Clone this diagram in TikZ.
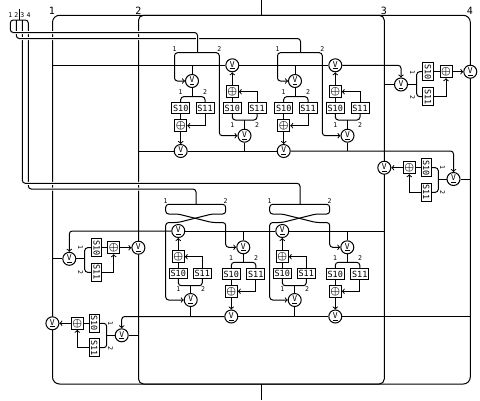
\documentclass[tikz,border=0pt]{standalone}
\usepackage{fontspec}
\setmainfont{DejaVu Sans Mono}
\tikzset{
  volt/.style={draw, circle, fill=white, minimum size=13pt, inner sep=0pt, font=\fontsize{8}{8}\selectfont},
  sumbox/.style={draw, fill=white, minimum size=12pt, inner sep=0pt, font=\fontsize{11}{11}\selectfont\boldmath},
  hbox/.style={draw, fill=white, minimum width=18pt, minimum height=10.5pt, inner sep=0pt, font=\fontsize{8.5}{8.5}\selectfont},
  vbox/.style={draw, fill=white, minimum width=10.5pt, minimum height=18pt, inner sep=0pt, font=\fontsize{8.5}{8.5}\selectfont},
  num/.style={inner sep=0pt, font=\fontsize{6.5}{6.5}\selectfont},
  bignum/.style={inner sep=0pt, font=\fontsize{10}{10}\selectfont},
  wire/.style={rounded corners=3pt},
  halo/.style={preaction={draw=white, line width=3pt}}
}
\begin{document}
\begin{tikzpicture}[x=1pt, y=-1pt, line width=1pt]
\useasboundingbox (0,0) rectangle (480,400);
\node[draw, rounded corners=7pt, minimum width=417.8pt, minimum height=368.7pt, inner sep=0pt, outer sep=0pt] (box1) at (261.4,199.65) {};
\node[draw, rounded corners=5pt, minimum width=245.8pt, minimum height=368.7pt, inner sep=0pt, outer sep=0pt] (box2) at (261.4,199.65) {};
\coordinate (in) at (261.4,0);
\coordinate (out) at (261.4,400);
\draw (in) -- (box1.north);
\draw (box1.south) -- (out);
\node[bignum] (big1) at (52,10.5) {1};
\node[bignum] (big2) at (138.5,10.5) {2};
\node[bignum] (big3) at (384,10.5) {3};
\node[bignum] (big4) at (470,10.5) {4};

\node[num] (top1) at (10.3,15.3) {1};
\node[num] (top2) at (16.3,15.3) {2};
\node[num] (top3) at (22.3,15.3) {3};
\node[num] (top4) at (28.5,15.3) {4};
\coordinate (stub) at (19.4,9);
\coordinate (bar) at (19.4,20);
\coordinate (e1) at (10.3,28);
\coordinate (e2) at (16.3,20);
\coordinate (e3) at (22.3,20);
\coordinate (e4) at (28.3,28);
\coordinate (ja) at (197.5,52.7);
\coordinate (jb) at (300.5,52.7);
\coordinate (jc) at (196,204.3);
\coordinate (jd) at (300,204.3);
\coordinate (k1) at (197.5,32.5);
\coordinate (k2) at (300.5,38.5);
\coordinate (k3) at (300,183.3);
\coordinate (k4) at (196,189);
\draw (stub) -- (bar);
\draw[wire, halo] (e4) |- (k4) -- (jc);
\draw[wire, halo] (e3) |- (k3) -- (jd);
\draw[wire, halo] (e2) |- (k2) -- (jb);
\draw[wire, halo] (e1) |- (k1) -- (ja);
\draw[wire] (e1) |- (bar) -| (e4);

\node[num] (n1a) at (174.5,49) {1};
\node[num] (n2a) at (219.3,49) {2};
\node[num] (n3a) at (180.5,92) {1};
\node[num] (n4a) at (205,92) {2};
\node[num] (n5a) at (232.3,125) {1};
\node[num] (n6a) at (257,125) {2};
\node[volt] (v1a) at (192,81) {\underline{V}};
\node[hbox] (s1a) at (180.7,108) {S10};
\node[hbox] (s2a) at (205,108) {S11};
\node[sumbox] (p1a) at (180.7,125.7) {$\oplus$};
\node[volt] (v2a) at (180.7,151) {\underline{V}};
\node[volt] (v3a) at (232.3,65.3) {\underline{V}};
\node[sumbox] (p2a) at (232.3,91.7) {$\oplus$};
\node[hbox] (s3a) at (232.3,108) {S10};
\node[hbox] (s4a) at (257,108) {S11};
\node[volt] (v4a) at (244.5,135.7) {\underline{V}};
\coordinate (la) at (174.5,81);
\coordinate (ra) at (219.3,135.7);
\coordinate (b1a) at (192,96.7);
\coordinate (b2a) at (244.5,120);
\draw[->, wire] (ja) -| (la) -- (v1a);
\draw[->, wire] (ja) -| (ra) -- (v4a);
\draw (v1a) -- (v1a |- v3a);
\draw (v1a) -- (b1a);
\draw[wire] (s1a) |- (b1a) -| (s2a);
\draw (s1a) -- (p1a);
\draw[->] (s2a) |- (p1a);
\draw[->] (p1a) -- (v2a);
\draw (v4a) -- (b2a);
\draw[wire] (s3a) |- (b2a) -| (s4a);
\draw (s3a) -- (p2a);
\draw[->] (s4a) |- (p2a);
\draw[->] (p2a) -- (v3a);
\draw (v4a) -- (v4a |- v2a);

\node[num] (n1b) at (277.5,49) {1};
\node[num] (n2b) at (322.3,49) {2};
\node[num] (n3b) at (283.5,92) {1};
\node[num] (n4b) at (308,92) {2};
\node[num] (n5b) at (335.3,125) {1};
\node[num] (n6b) at (360,125) {2};
\node[volt] (v1b) at (295,81) {\underline{V}};
\node[hbox] (s1b) at (283.7,108) {S10};
\node[hbox] (s2b) at (308,108) {S11};
\node[sumbox] (p1b) at (283.7,125.7) {$\oplus$};
\node[volt] (v2b) at (283.7,151) {\underline{V}};
\node[volt] (v3b) at (335.3,65.3) {\underline{V}};
\node[sumbox] (p2b) at (335.3,91.7) {$\oplus$};
\node[hbox] (s3b) at (335.3,108) {S10};
\node[hbox] (s4b) at (360,108) {S11};
\node[volt] (v4b) at (347.5,135.7) {\underline{V}};
\coordinate (lb) at (277.5,81);
\coordinate (rb) at (322.3,135.7);
\coordinate (b1b) at (295,96.7);
\coordinate (b2b) at (347.5,120);
\draw[->, wire] (jb) -| (lb) -- (v1b);
\draw[->, wire] (jb) -| (rb) -- (v4b);
\draw (v1b) -- (v1b |- v3b);
\draw (v1b) -- (b1b);
\draw[wire] (s1b) |- (b1b) -| (s2b);
\draw (s1b) -- (p1b);
\draw[->] (s2b) |- (p1b);
\draw[->] (p1b) -- (v2b);
\draw (v4b) -- (b2b);
\draw[wire] (s3b) |- (b2b) -| (s4b);
\draw (s3b) -- (p2b);
\draw[->] (s4b) |- (p2b);
\draw[->] (p2b) -- (v3b);
\draw (v4b) -- (v4b |- v2b);

\node[num] (n1c) at (165.5,200.7) {1};
\node[num] (n2c) at (225.5,200.7) {2};
\node[num] (n3c) at (178.3,289.5) {1};
\node[num] (n4c) at (203,289.5) {2};
\node[num] (n5c) at (231,258.3) {1};
\node[num] (n6c) at (256,258.3) {2};
\node[volt] (v1c) at (178.3,231) {\underline{V}};
\node[sumbox] (p1c) at (178.3,256.7) {$\oplus$};
\node[hbox] (s1c) at (178.3,273.3) {S10};
\node[hbox] (s2c) at (202.3,273.3) {S11};
\node[volt] (v2c) at (190.7,300) {\underline{V}};
\node[volt] (v3c) at (231.3,316.5) {\underline{V}};
\node[sumbox] (p2c) at (231.3,291.3) {$\oplus$};
\node[hbox] (s3c) at (231.3,274) {S10};
\node[hbox] (s4c) at (255.8,274) {S11};
\node[volt] (v4c) at (243.3,247.3) {\underline{V}};
\coordinate (c1) at (165.7,214);
\coordinate (c2) at (178,214);
\coordinate (c3) at (212,214);
\coordinate (c4) at (225.7,214);
\coordinate (c5) at (165.7,222.5);
\coordinate (c6) at (178,222.5);
\coordinate (c7) at (212,222.5);
\coordinate (c8) at (225.7,222.5);
\coordinate (c9) at (165.7,300);
\coordinate (c10) at (225.7,247.3);
\coordinate (b1c) at (190.7,285.7);
\coordinate (b2c) at (243.3,262.3);
\draw[->, wire] (jc) -| (c1) -- (c2) -- (c7) -- (c8) -- (c10) -- (v4c);
\draw[->, wire] (jc) -| (c4) -- (c3) -- (c6) -- (c5) -- (c9) -- (v2c);
\draw (v4c) -- (v4c |- v1c);
\draw (v2c) -- (b1c);
\draw[wire] (s1c) |- (b1c) -| (s2c);
\draw (s1c) -- (p1c);
\draw[->] (s2c) |- (p1c);
\draw[->] (p1c) -- (v1c);
\draw (v4c) -- (b2c);
\draw[wire] (s3c) |- (b2c) -| (s4c);
\draw (s3c) -- (p2c);
\draw[->] (s4c) |- (p2c);
\draw[->] (p2c) -- (v3c);
\draw (v2c) -- (v2c |- v3c);

\node[num] (n1d) at (269.5,200.7) {1};
\node[num] (n2d) at (329.5,200.7) {2};
\node[num] (n3d) at (282.3,289.5) {1};
\node[num] (n4d) at (307,289.5) {2};
\node[num] (n5d) at (335,258.3) {1};
\node[num] (n6d) at (360,258.3) {2};
\node[volt] (v1d) at (282.3,231) {\underline{V}};
\node[sumbox] (p1d) at (282.3,256.7) {$\oplus$};
\node[hbox] (s1d) at (282.3,273.3) {S10};
\node[hbox] (s2d) at (306.3,273.3) {S11};
\node[volt] (v2d) at (294.7,300) {\underline{V}};
\node[volt] (v3d) at (335.3,316.5) {\underline{V}};
\node[sumbox] (p2d) at (335.3,291.3) {$\oplus$};
\node[hbox] (s3d) at (335.3,274) {S10};
\node[hbox] (s4d) at (359.8,274) {S11};
\node[volt] (v4d) at (347.3,247.3) {\underline{V}};
\coordinate (d1) at (269.7,214);
\coordinate (d2) at (282,214);
\coordinate (d3) at (316,214);
\coordinate (d4) at (329.7,214);
\coordinate (d5) at (269.7,222.5);
\coordinate (d6) at (282,222.5);
\coordinate (d7) at (316,222.5);
\coordinate (d8) at (329.7,222.5);
\coordinate (d9) at (269.7,300);
\coordinate (d10) at (329.7,247.3);
\coordinate (b1d) at (294.7,285.7);
\coordinate (b2d) at (347.3,262.3);
\draw[->, wire] (jd) -| (d1) -- (d2) -- (d7) -- (d8) -- (d10) -- (v4d);
\draw[->, wire] (jd) -| (d4) -- (d3) -- (d6) -- (d5) -- (d9) -- (v2d);
\draw (v4d) -- (v4d |- v1d);
\draw (v2d) -- (b1d);
\draw[wire] (s1d) |- (b1d) -| (s2d);
\draw (s1d) -- (p1d);
\draw[->] (s2d) |- (p1d);
\draw[->] (p1d) -- (v1d);
\draw (v4d) -- (b2d);
\draw[wire] (s3d) |- (b2d) -| (s4d);
\draw (s3d) -- (p2d);
\draw[->] (s4d) |- (p2d);
\draw[->] (p2d) -- (v3d);
\draw (v2d) -- (v2d |- v3d);

\node[num, rotate=-90] (n1r) at (412.5,72) {1};
\node[num, rotate=-90] (n2r) at (412.5,97) {2};
\node[volt] (v1r) at (401,84.5) {\underline{V}};
\node[vbox] (s1r) at (428,71.7) {\rotatebox{-90}{S10}};
\node[vbox] (s2r) at (428,96.7) {\rotatebox{-90}{S11}};
\node[sumbox] (p1r) at (446,71.7) {$\oplus$};
\node[volt] (v2r) at (470.3,71.7) {\underline{V}};
\coordinate (br) at (416.7,84.5);
\draw (box2.east |- v1r) -- (v1r) -- (br);
\draw[wire] (s1r) -| (br) |- (s2r);
\draw (s1r) -- (p1r);
\draw[->] (s2r) -| (p1r);
\draw[->] (p1r) -- (v2r);

\node[num, rotate=-90] (n1s) at (442.5,167.3) {1};
\node[num, rotate=-90] (n2s) at (442.5,192.3) {2};
\node[volt] (v1s) at (453.5,179) {\underline{V}};
\node[vbox] (s1s) at (426.3,167.7) {\rotatebox{-90}{S10}};
\node[vbox] (s2s) at (426.3,192.3) {\rotatebox{-90}{S11}};
\node[sumbox] (p1s) at (409.3,167.7) {$\oplus$};
\node[volt] (v2s) at (384.3,167.7) {\underline{V}};
\coordinate (bs) at (438.3,179);
\draw (box1.east |- v1s) -- (v1s) -- (bs);
\draw[wire] (s1s) -| (bs) |- (s2s);
\draw (s1s) -- (p1s);
\draw[->] (s2s) -| (p1s);
\draw[->] (p1s) -- (v2s);

\node[num, rotate=-90] (n1t) at (80.5,247) {1};
\node[num, rotate=-90] (n2t) at (80.5,272) {2};
\node[volt] (v1t) at (69.3,258.8) {\underline{V}};
\node[vbox] (s1t) at (96.7,247.7) {\rotatebox{-90}{S10}};
\node[vbox] (s2t) at (96.7,272.3) {\rotatebox{-90}{S11}};
\node[sumbox] (p1t) at (113.7,247.7) {$\oplus$};
\node[volt] (v2t) at (138.4,247.7) {\underline{V}};
\coordinate (bt) at (84.7,258.8);
\draw (box1.west |- v1t) -- (v1t) -- (bt);
\draw[wire] (s1t) -| (bt) |- (s2t);
\draw (s1t) -- (p1t);
\draw[->] (s2t) -| (p1t);
\draw[->] (p1t) -- (v2t);

\node[num, rotate=-90] (n1u) at (110.5,323.3) {1};
\node[num, rotate=-90] (n2u) at (110.5,348) {2};
\node[volt] (v1u) at (121.7,335.3) {\underline{V}};
\node[vbox] (s1u) at (94.3,323.3) {\rotatebox{-90}{S10}};
\node[vbox] (s2u) at (94.3,347.7) {\rotatebox{-90}{S11}};
\node[sumbox] (p1u) at (77.3,323.3) {$\oplus$};
\node[volt] (v2u) at (52.4,323.3) {\underline{V}};
\coordinate (bu) at (106.7,335.3);
\draw (box2.west |- v1u) -- (v1u) -- (bu);
\draw[wire] (s1u) -| (bu) |- (s2u);
\draw (s1u) -- (p1u);
\draw[->] (s2u) -| (p1u);
\draw[->] (p1u) -- (v2u);

\draw (box1.west |- v3a) -- (v3a) -- (v3b);
\draw[->, wire] (v3b) -| (v1r);
\draw (box2.west |- v2a) -- (v2a) -- (v2b);
\draw[->, wire] (v2b) -| (v1s);
\draw (box2.east |- v1d) -- (v1d) -- (v1c);
\draw[->, wire] (v1c) -| (v1t);
\draw (box1.east |- v3d) -- (v3d) -- (v3c);
\draw[->, wire] (v3c) -| (v1u);
\end{tikzpicture}
\end{document}
